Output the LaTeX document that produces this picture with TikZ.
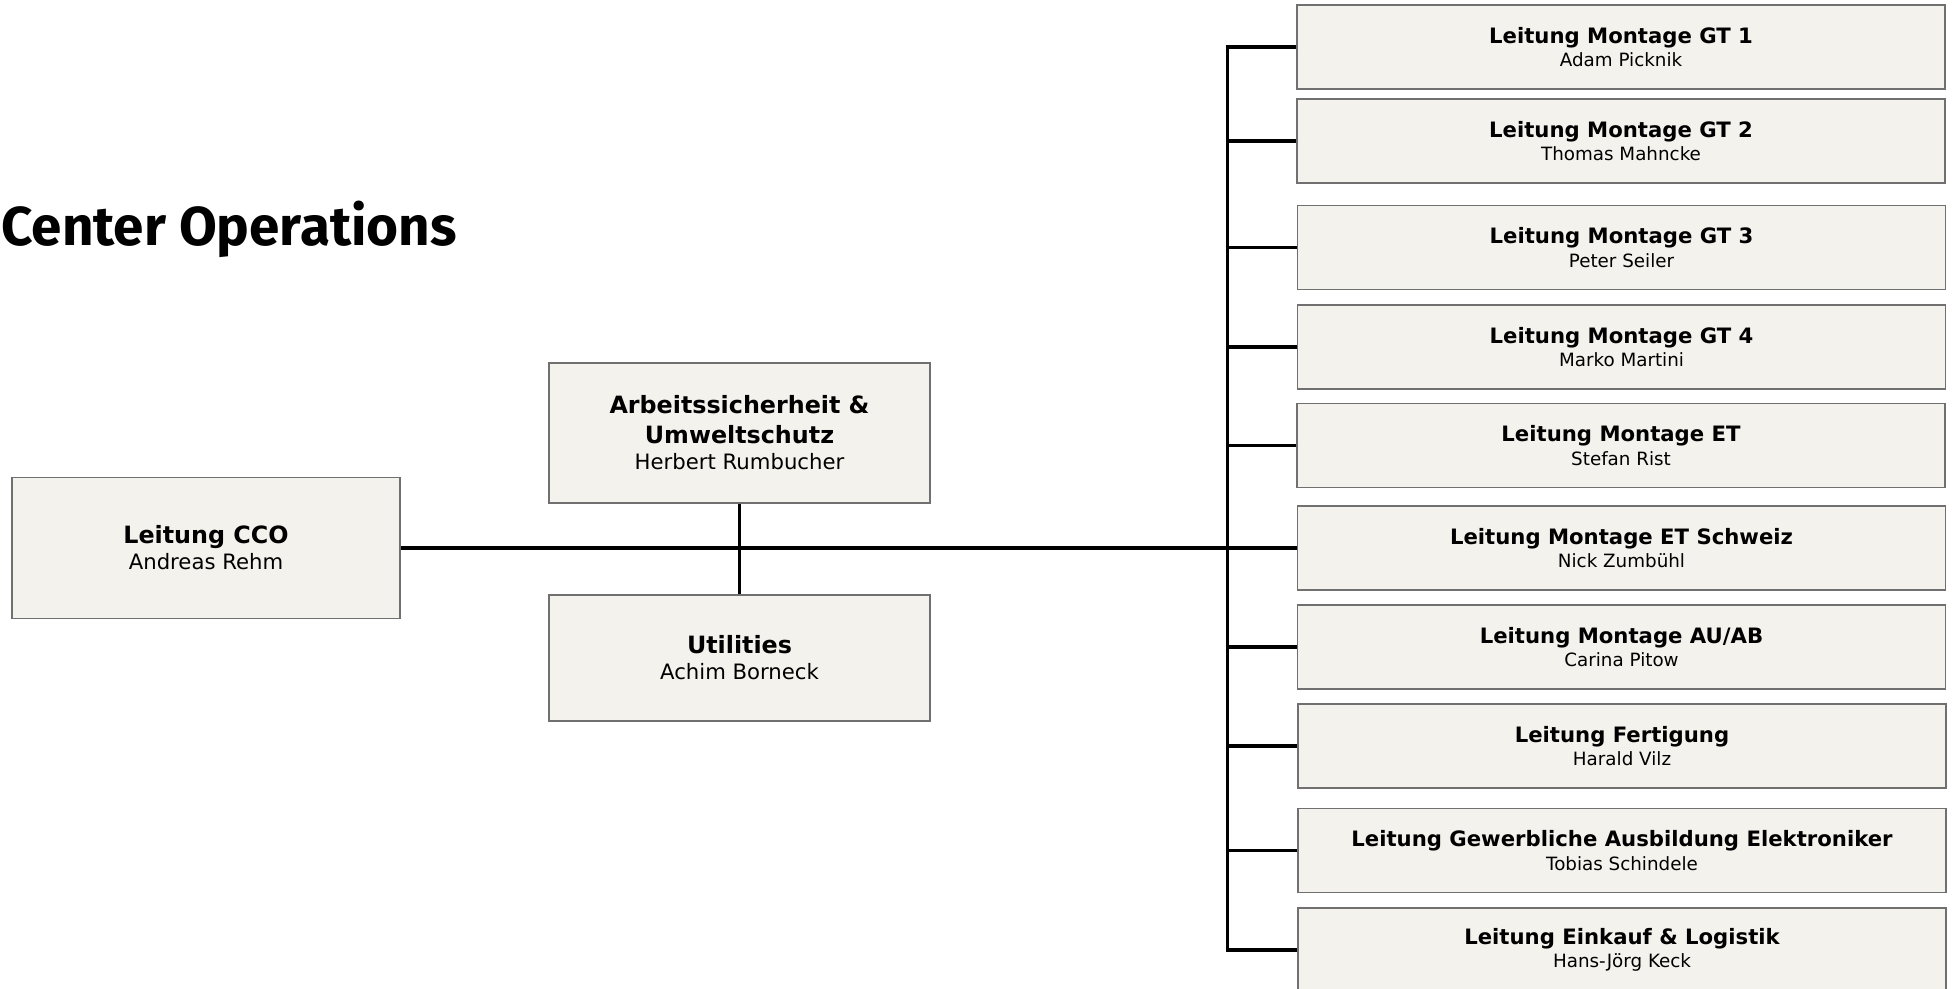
\documentclass[tikz,border=0pt]{standalone}
\usepackage{fontspec}
\setmainfont{DejaVu Sans}
\newfontfamily\titlefont{Fira Sans}
\definecolor{boxfill}{RGB}{243,242,236}
\definecolor{boxline}{RGB}{112,112,112}
\newcommand{\tf}{\fontsize{11.9}{13}\selectfont\bfseries}
\newcommand{\nf}{\fontsize{10.6}{13}\selectfont\mdseries}
\newcommand{\rtf}{\fontsize{10.6}{11.7}\selectfont\bfseries}
\newcommand{\rnf}{\fontsize{9.15}{11.7}\selectfont\mdseries}
\tikzset{
  orgbox/.style={draw=boxline, line width=0.6pt, fill=boxfill, align=center, inner sep=0pt, text=black},
  leftbox/.style={orgbox, font=\fontsize{10.6}{13}\selectfont},
  rightbox/.style={orgbox, minimum width=324pt, minimum height=42pt, font=\fontsize{9.15}{11.7}\selectfont},
  conn/.style={draw=black, line width=1.6pt},
}
\begin{document}
\begin{tikzpicture}[x=0.5pt, y=-0.5pt]
\useasboundingbox (0,0) rectangle (1952,989);
\node[anchor=base west, inner sep=0pt, font=\titlefont\bfseries\fontsize{27.4}{30}\selectfont] (title) at (1,246) {Center Operations};

\node[leftbox, minimum width=194pt, minimum height=70.5pt] (cco) at (206,548) {\tf Leitung CCO\\\nf Andreas Rehm};
\node[leftbox, minimum width=190.5pt, minimum height=70pt] (arb) at (739.5,433) {\tf Arbeitssicherheit \&\\[2pt]\tf Umweltschutz\\\nf Herbert Rumbucher};
\node[leftbox, minimum width=190.5pt, minimum height=63pt] (util) at (739.5,658) {\tf Utilities\\\nf Achim Borneck};

\node[rightbox] (r1) at (1621,47) {\rtf Leitung Montage GT 1\\\rnf Adam Picknik};
\node[rightbox] (r2) at (1621,141) {\rtf Leitung Montage GT 2\\\rnf Thomas Mahncke};
\node[rightbox] (r3) at (1621.5,247.5) {\rtf Leitung Montage GT 3\\\rnf Peter Seiler};
\node[rightbox] (r4) at (1621.5,347) {\rtf Leitung Montage GT 4\\\rnf Marko Martini};
\node[rightbox] (r5) at (1621,445.5) {\rtf Leitung Montage ET\\\rnf Stefan Rist};
\node[rightbox] (r6) at (1621.5,548) {\rtf Leitung Montage ET Schweiz\\\rnf Nick Zumbühl};
\node[rightbox] (r7) at (1621.5,647) {\rtf Leitung Montage AU/AB\\\rnf Carina Pitow};
\node[rightbox] (r8) at (1622,746) {\rtf Leitung Fertigung\\\rnf Harald Vilz};
\node[rightbox] (r9) at (1622,850.5) {\rtf Leitung Gewerbliche Ausbildung Elektroniker\\\rnf Tobias Schindele};
\node[rightbox] (r10) at (1622,950) {\rtf Leitung Einkauf \& Logistik\\\rnf Hans-Jörg Keck};

\coordinate (bus) at (1227.5,0);
\draw[conn] (cco.east) -- (r6.west);
\draw[conn] (arb.south) -- (util.north);
\draw[conn] (r1.west) -- (r1.west -| bus) -- (r10.west -| bus) -- (r10.west);
\foreach \n in {r2,r3,r4,r5,r6,r7,r8,r9}{
  \draw[conn] (\n.west) -- (\n.west -| bus);
}
\end{tikzpicture}
\end{document}
